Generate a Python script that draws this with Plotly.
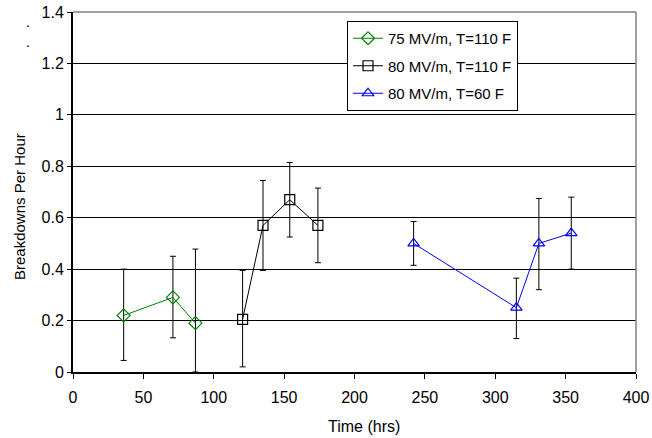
import plotly.graph_objects as go

# Series data
g_x = [36, 71, 87]
g_y = [0.22, 0.29, 0.19]
g_hi = [0.40, 0.45, 0.478]
g_lo = [0.045, 0.133, 0.0]

k_x = [120.5, 135, 154, 174]
k_y = [0.205, 0.57, 0.67, 0.57]
k_hi = [0.395, 0.745, 0.815, 0.715]
k_lo = [0.02, 0.395, 0.525, 0.425]

b_x = [242, 315, 331, 354]
b_y = [0.50, 0.25, 0.50, 0.54]
b_hi = [0.585, 0.365, 0.675, 0.68]
b_lo = [0.415, 0.13, 0.32, 0.40]

names = ["75 MV/m, T=110 F", "80 MV/m, T=110 F", "80 MV/m, T=60 F"]
colors = ["#008000", "#000000", "#0000FF"]
symbols = ["diamond-open", "square-open", "triangle-up-open"]

y_ticks = [0, 0.2, 0.4, 0.6, 0.8, 1, 1.2, 1.4]
y_ticktext = ["0", "0.2", "0.4", "0.6", "0.8", "1", "1.2", "1.4"]

fig = go.Figure()
for i, (xs, ys, hi, lo, nm, c, s) in enumerate([
    (g_x, g_y, g_hi, g_lo, names[0], colors[0], symbols[0]),
    (k_x, k_y, k_hi, k_lo, names[1], colors[1], symbols[1]),
    (b_x, b_y, b_hi, b_lo, names[2], colors[2], symbols[2]),
]):
    fig.add_trace(go.Scatter(
        x=xs, y=ys, name=nm, mode="lines+markers", legendgroup=f"g{i}",
        line=dict(color=c, width=1),
        marker=dict(symbol=s, size=10, color=c, line=dict(color=c, width=1.2)),
        error_y=dict(type="data", symmetric=False,
                     array=[h - v for h, v in zip(hi, ys)],
                     arrayminus=[v - l for v, l in zip(ys, lo)],
                     color="black", thickness=1, width=3),
    ))

# plot area on screen: x 73..636, y 12..372
W, H = 652, 438
PL, PR, PT, PB = 73, 636, 12, 372
L, R, T, B = PL, W - PR, PT, H - PB


def px(sx):
    return (sx - PL) / (PR - PL)


def py(sy):
    return (PB - sy) / (PB - PT)


fig.update_layout(
    width=W, height=H,
    margin=dict(l=L, r=R, t=T, b=B),
    paper_bgcolor="white", plot_bgcolor="white",
    font=dict(family="Liberation Sans, Arial, sans-serif", size=16, color="black"),
    showlegend=True,
    legend=dict(x=px(347), y=py(21), xanchor="left", yanchor="top",
                bgcolor="white", bordercolor="black", borderwidth=1,
                font=dict(size=15), tracegroupgap=5, itemwidth=30),
    xaxis=dict(range=[0, 400], dtick=50, showgrid=False, zeroline=False,
               showline=True, linecolor="black", linewidth=2, automargin=False,
               ticks="outside", ticklen=5, tickcolor="black",
               ticklabelstandoff=5),
    yaxis=dict(range=[0, 1.4], showgrid=True, gridcolor="black", gridwidth=1,
               zeroline=False, showline=True, linecolor="black", linewidth=2,
               automargin=False, ticks="outside", ticklen=4, tickcolor="black",
               tickvals=y_ticks, ticktext=y_ticktext),
)
# axis titles
fig.add_annotation(text="Time (hrs)", xref="paper", yref="paper",
                   x=px(364), y=py(427), showarrow=False, font=dict(size=16),
                   xanchor="center", yanchor="middle")
fig.add_annotation(text="Breakdowns Per Hour", xref="paper", yref="paper",
                   x=px(19), y=py(207), showarrow=False, textangle=-90,
                   font=dict(size=15), xanchor="center", yanchor="middle")
# gray frame on top and right
fig.add_shape(type="line", xref="paper", yref="paper", x0=0, x1=1, y0=1, y1=1,
              line=dict(color="#808080", width=1.5))
fig.add_shape(type="line", xref="paper", yref="paper", x0=1, x1=1, y0=0, y1=1,
              line=dict(color="#808080", width=1.5))
# stray dots at top-left
for yy in [12, 32]:
    fig.add_annotation(text=".", xref="paper", yref="paper",
                       x=px(24), y=py(yy), showarrow=False,
                       font=dict(size=14, color="black"))

fig.write_html("out.html", config={"displayModeBar": False},
               post_script="document.body.style.margin='0';")
